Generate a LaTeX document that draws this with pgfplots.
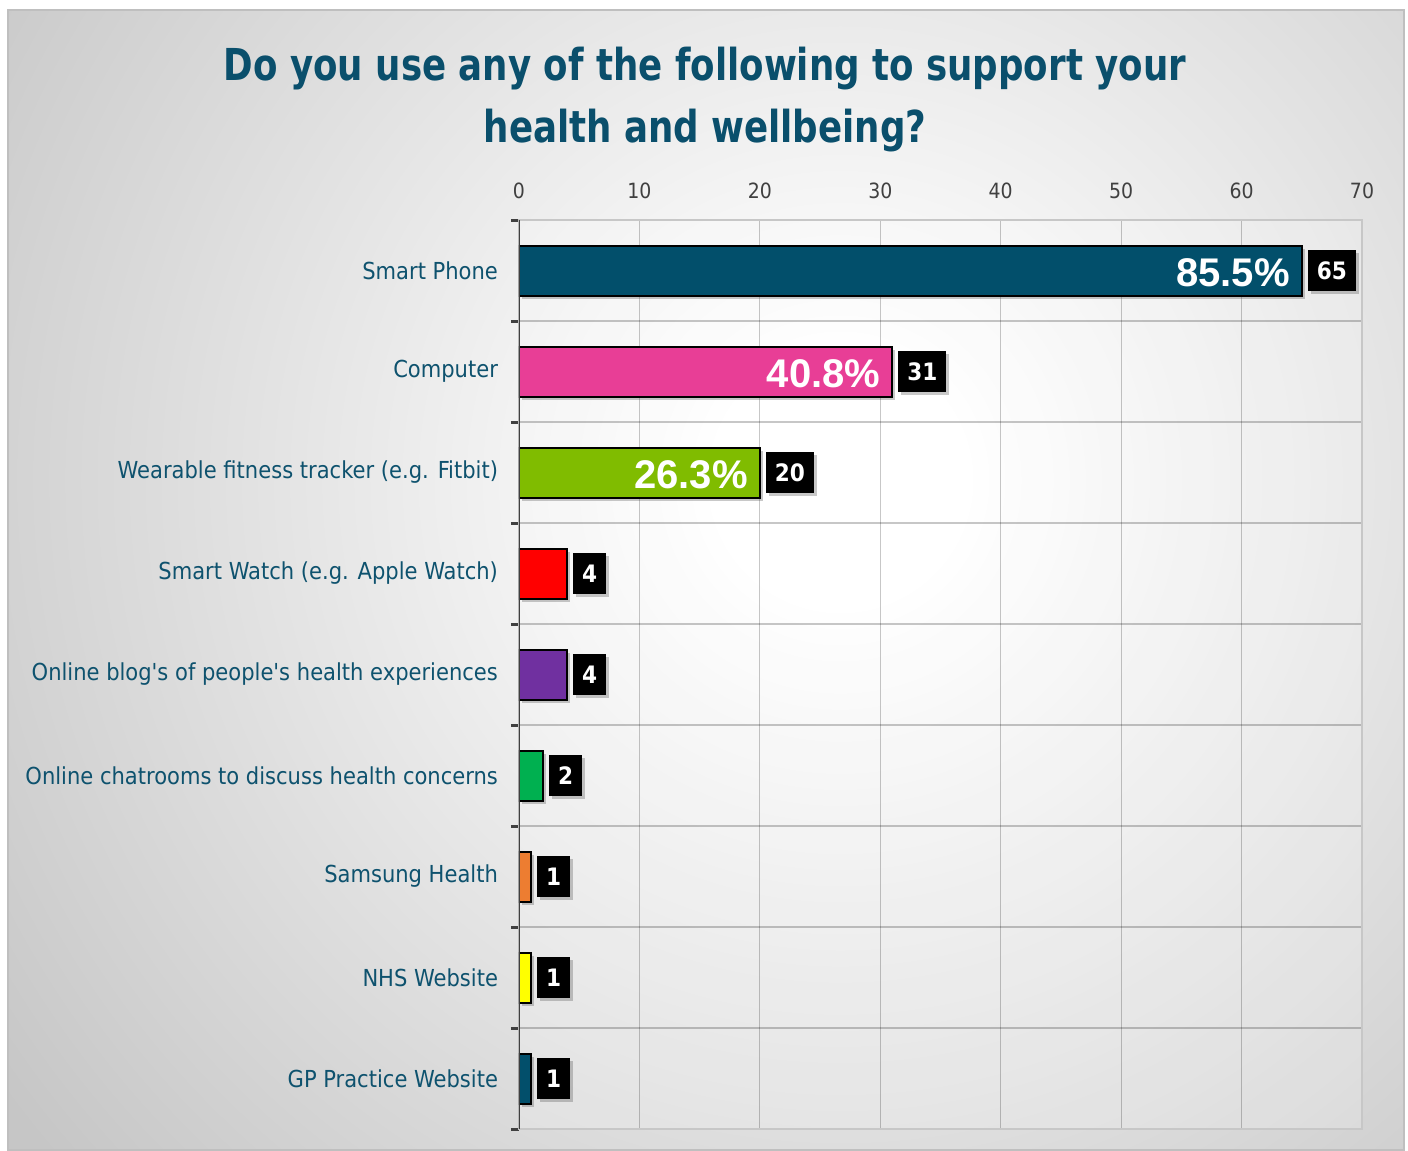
\documentclass[border=0pt]{standalone}
\usepackage{pgfplots}
\pgfplotsset{compat=1.18}
\usepackage{fontspec}
\setmainfont{DejaVu Sans Condensed}
\newfontfamily\arialfont{Liberation Sans}
\usetikzlibrary{shadows}
\definecolor{titlecol}{RGB}{10,79,108}
\definecolor{labcol}{RGB}{14,82,110}
\definecolor{cA}{RGB}{2,79,107}
\definecolor{cB}{RGB}{232,62,150}
\definecolor{cC}{RGB}{128,188,0}
\definecolor{cD}{RGB}{255,0,0}
\definecolor{cE}{RGB}{112,48,160}
\definecolor{cF}{RGB}{0,176,80}
\definecolor{cG}{RGB}{237,125,49}
\definecolor{cH}{RGB}{255,255,0}
\definecolor{bgout}{RGB}{198,198,198}
\pgfdeclareradialshading{bgshade}{\pgfpoint{0bp}{0bp}}{color(0bp)=(white); color(3bp)=(white); color(25bp)=(bgout); color(50bp)=(bgout)}
\begin{document}
\begin{tikzpicture}
\path[use as bounding box] (0,0) rectangle (704pt,-575.5pt);
\fill[white] (0,0) rectangle (704pt,-575.5pt);
\begin{scope}
\clip (4pt,-5pt) rectangle (702pt,-575pt);
\fill[bgout] (4pt,-5pt) rectangle (702pt,-575pt);
\shade[shading=bgshade] (420pt,-240pt) circle (520pt);
\end{scope}
\draw[black!25, line width=0.6pt] (4pt,-5pt) rectangle (702pt,-575pt);
\node[anchor=base, text=titlecol, font=\fontsize{22}{26}\selectfont\bfseries] at (352.5pt,-40pt) {\scalebox{0.9}[1]{Do you use any of the following to support your}};
\node[anchor=base, text=titlecol, font=\fontsize{22}{26}\selectfont\bfseries] at (352.5pt,-71pt) {\scalebox{0.9}[1]{health and wellbeing?}};
\begin{axis}[
 at={(259.5pt,-564.5pt)}, anchor=south west,
 scale only axis, width=421.5pt, height=454.5pt,
 axis background/.style={fill=white, fill opacity=0.2},
 xmin=0, xmax=70, ymin=-0.5, ymax=8.5, y dir=reverse,
 xtick={0,10,...,70}, xticklabel pos=upper,
 xmajorgrids, major x grid style={black, opacity=0.22, line width=0.6pt},
 ytick={0,...,8},
 yticklabels={Smart Phone, Computer, Wearable fitness tracker (e.g. Fitbit), Smart Watch (e.g. Apple Watch), {Online blog\textquotesingle s of people\textquotesingle s health experiences}, Online chatrooms to discuss health concerns, Samsung Health, NHS Website, GP Practice Website},
 minor ytick={-0.5,0.5,...,8.5}, yminorgrids, minor y grid style={black, opacity=0.22, line width=0.6pt},
 major tick length=0pt, minor tick length=4pt, tick align=outside, ytick pos=left,
 minor tick style={black!75, line width=1.5pt},
 axis line style={black!22, line width=0.6pt},
 yticklabel style={font=\fontsize{11.7}{14}\selectfont, text=labcol, xshift=-7pt},
 xticklabel style={font=\fontsize{10.5}{12}\selectfont, text=black!75, yshift=7pt},
 /pgf/number format/assume math mode=true,
 xbar, bar width=25pt, bar shift=0pt,
 bx/.style={draw=black, line width=1pt, nodes near coords,
   drop shadow={shadow xshift=1.5pt, shadow yshift=-1.5pt, opacity=0.3, fill=black!70, draw=none},
   every node near coord/.append style={fill=black, text=white, font=\fontsize{12}{14}\selectfont\bfseries, anchor=west, xshift=3pt, inner xsep=4.5pt, minimum height=20.5pt, outer sep=0pt, line width=0pt, drop shadow={shadow xshift=1.5pt, shadow yshift=-1.5pt, opacity=0.3, fill=black!70, draw=none}}},
]
\addplot[fill=cA, bx] coordinates {(65,0)};
\addplot[fill=cB, bx] coordinates {(31,1)};
\addplot[fill=cC, bx] coordinates {(20,2)};
\addplot[fill=cD, bx] coordinates {(4,3)};
\addplot[fill=cE, bx] coordinates {(4,4)};
\addplot[fill=cF, bx] coordinates {(2,5)};
\addplot[fill=cG, bx] coordinates {(1,6)};
\addplot[fill=cH, bx] coordinates {(1,7)};
\addplot[fill=cA, bx] coordinates {(1,8)};
\addplot[draw=none, fill=none, point meta=explicit symbolic, nodes near coords,
  every node near coord/.append style={text=white, font=\fontsize{20}{24}\selectfont\arialfont\bfseries, anchor=east, xshift=-2.5pt, yshift=-1pt}]
  coordinates {(65,0) [85.5\%] (31,1) [40.8\%] (20,2) [26.3\%]};
\draw[black!75, line width=1.5pt] (rel axis cs:0,0) -- (rel axis cs:0,1);
\end{axis}
\end{tikzpicture}
\end{document}
